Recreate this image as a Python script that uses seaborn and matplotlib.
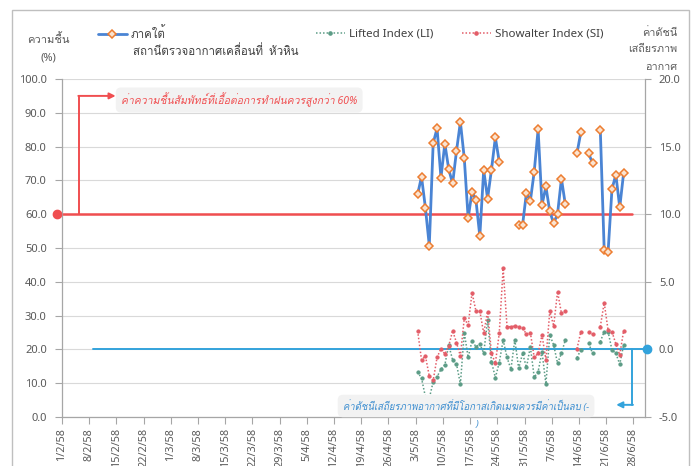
#!/usr/bin/env python3
"""
Relative humidity vs. stability indices (LI / SI), Hua Hin mobile station.
Recreated from a Thai Excel chart, Feb - Jun 2558 (2015).
"""

from datetime import date, timedelta

import numpy as np
import pandas as pd
import matplotlib
matplotlib.use("Agg")
import matplotlib.pyplot as plt
from matplotlib import font_manager
from matplotlib.lines import Line2D
from matplotlib.patches import Rectangle
import seaborn as sns

nan = np.nan

# Data (daily, starting 3/5/58; NaN = no sounding that day)
START_DATE = date(2015, 2, 1)
FIRST_DAY = 91          # days after START_DATE -> 3/5/58
N_DAYS = 150            # axis covers 1/2/58 .. 30/6/58
TICK_STEP = 7

rh = [65.9, 71.1, 61.9, 50.7, 81.0, 85.4, 70.8, 80.9, 73.3, 69.1, 78.7,
      87.3, 76.6, 58.8, 66.7, 64.2, 53.5, 73.1, 64.6, 73.2, 82.7, 75.5,
      nan, nan, nan, nan,
      56.8, 56.8, 66.4, 63.9, 72.6, 85.1, 62.7, 68.2, 60.8, 57.3, 60.1, 70.5, 62.9,
      nan, nan, 78.0, 84.3, nan, 78.0, 75.1, nan,
      85.0, 49.5, 48.8, 67.4, 71.7, 62.0, 72.2]

li = [-1.65, -2.14, -3.5, -3.62, -2.39, -2.02, -1.47, -1.15, 0.33, -0.78,
      -1.08, -2.56, 1.24, -0.59, 0.64, 0.2, 0.4, -0.29, 2.17, -0.91, -2.09,
      -0.98, 0.7, -0.59, -1.47, 0.7, -1.4, -0.29, -1.33, 0.2, -2.06, -1.65,
      -0.17, -2.56, 1.07, 0.33, -1.03, -0.29, 0.7,
      nan, nan, -0.61, -0.04, nan, 0.45, -0.29, nan,
      0.57, 1.31, 1.31, -0.04, -0.29, -1.1, 0.33]

si = [1.38, -0.78, -0.49, -1.97, -2.3, -0.59, 0.05, -0.34, 0.25, 1.38, 0.5,
      -0.49, 2.3, 1.8, 4.2, 2.84, 2.84, 1.19, 2.79, -0.29, -1.03, 1.19, 6.0,
      1.68, 1.68, 1.73, 1.68, 1.56, 1.14, 1.24, -0.59, -0.29, 1.07, -0.78,
      2.84, 1.73, 4.27, 2.67, 2.86,
      nan, nan, 0.05, 1.31, nan, 1.31, 1.14, nan,
      1.68, 3.45, 1.43, 1.31, 0.4, -0.41, 1.38]

RH_THRESHOLD = 60       # %
INDEX_THRESHOLD = 0     # stability index

# Text
LABEL_RH = "ภาคใต้"
LABEL_STATION = "สถานีตรวจอากาศเคลื่อนที่  หัวหิน"
LABEL_LI = "Lifted Index (LI)"
LABEL_SI = "Showalter Index (SI)"
YLABEL_LEFT = "ความชื้น\n(%)"
YLABEL_RIGHT = "ค่าดัชนี\nเสถียรภาพ\nอากาศ"
NOTE_RH = "ค่าความชื้นสัมพัทธ์ที่เอื้อต่อการทำฝนควรสูงกว่า 60%"
NOTE_INDEX = "ค่าดัชนีเสถียรภาพอากาศที่มีโอกาสเกิดเมฆควรมีค่าเป็นลบ (-"

# Colours
C_RH_LINE = "#4a84d4"
C_RH_EDGE = "#ed7d31"
C_RH_FACE = "#fbe3cf"
C_LI = "#5c9c86"
C_SI = "#e35d68"
C_RED = "#f04e50"
C_BLUE = "#33a3dc"
C_TEXT = "#595959"
C_GRID = "#d9d9d9"
C_AXIS = "#a6a6a6"

W, H = 694, 466


def find_thai_font():
    """Return an installed family that has Thai glyphs, if any."""
    try:
        from fontTools.ttLib import TTFont
    except ImportError:
        return None
    for f in font_manager.fontManager.ttflist:
        try:
            tt = TTFont(f.fname, fontNumber=0, lazy=True)
            cmap = tt.getBestCmap() or {}
            if 0x0E01 in cmap and 0x0E49 in cmap:
                return f.name
        except Exception:
            continue
    return None


def px(x, y):
    """Pixel position -> figure fraction."""
    return x / W, 1 - y / H


def to_frame(values, name):
    s = pd.Series(values, dtype=float)
    df = pd.DataFrame({
        "x": np.arange(len(s)) + FIRST_DAY + 0.5,
        name: s,
        "seg": s.isna().cumsum(),
    })
    return df.dropna()


sns.set_theme(style="white")
thai = find_thai_font()
families = ["Noto Sans"] + ([thai] if thai else []) + ["DejaVu Sans"]
plt.rcParams["font.family"] = families

fig = plt.figure(figsize=(W / 100, H / 100), dpi=100)
fig.patch.set_facecolor("white")
ax = fig.add_axes([62 / W, 1 - 417 / H, (645 - 62) / W, (417 - 79) / H])
ax2 = ax.twinx()

# Outer chart border
fig.patches.append(Rectangle((12 / W, -0.2), (689 - 12) / W, 1.2 - 10 / H,
                             transform=fig.transFigure, fill=False,
                             ec="#bfbfbf", lw=1.0))

df_rh = to_frame(rh, "rh")
df_li = to_frame(li, "li")
df_si = to_frame(si, "si")

# Threshold lines
ax.plot([-1.3, 146.7], [RH_THRESHOLD, RH_THRESHOLD], color=C_RED, lw=1.8,
        clip_on=False, zorder=2)
ax.plot([-1.3], [RH_THRESHOLD], "o", color=C_RED, ms=6, clip_on=False, zorder=3)
ax.plot([4.4, 4.4], [RH_THRESHOLD, 95.0], color=C_RED, lw=1.4, zorder=2)
ax.annotate("", xy=(13.8, 95.0), xytext=(4.2, 95.0),
            arrowprops=dict(arrowstyle="-|>", color=C_RED, lw=1.4,
                            mutation_scale=9, shrinkA=0, shrinkB=0))

ax2.plot([8.0, 150.6], [INDEX_THRESHOLD, INDEX_THRESHOLD], color=C_BLUE,
         lw=1.4, clip_on=False, zorder=2)
ax2.plot([150.6], [INDEX_THRESHOLD], "o", color=C_BLUE, ms=6, clip_on=False,
         zorder=3)
ax2.plot([146.7, 146.7], [INDEX_THRESHOLD, -4.1], color=C_BLUE, lw=1.4,
         zorder=2)
ax2.annotate("", xy=(142.6, -4.1), xytext=(146.9, -4.1),
             arrowprops=dict(arrowstyle="-|>", color=C_BLUE, lw=1.4,
                             mutation_scale=9, shrinkA=0, shrinkB=0))

# Series
sns.lineplot(data=df_rh, x="x", y="rh", units="seg", estimator=None,
             sort=False, ax=ax, color=C_RH_LINE, lw=2.0, marker="D", ms=3.8,
             mfc=C_RH_FACE, mec=C_RH_EDGE, mew=1.1, zorder=4)
sns.lineplot(data=df_li, x="x", y="li", units="seg", estimator=None,
             sort=False, ax=ax2, color=C_LI, lw=1.1, ls=(0, (1, 1.3)),
             marker="o", ms=2.3, mec=C_LI, zorder=4)
sns.lineplot(data=df_si, x="x", y="si", units="seg", estimator=None,
             sort=False, ax=ax2, color=C_SI, lw=1.1, ls=(0, (1, 1.3)),
             marker="o", ms=2.3, mec=C_SI, zorder=4)

# Axes
ax.set_xlim(0, N_DAYS)
ax.set_ylim(0, 100)
ax2.set_ylim(-5, 20)
ax.set_yticks(np.arange(0, 101, 10))
ax2.set_yticks(np.arange(-5, 21, 5))
ax.set_yticklabels([f"{v:.1f}" for v in np.arange(0, 101, 10)])
ax2.set_yticklabels([f"{v:.1f}" for v in np.arange(-5, 21, 5)])

ticks = np.arange(0, N_DAYS, TICK_STEP)
tick_labels = []
for t in ticks:
    d = START_DATE + timedelta(days=int(t))
    tick_labels.append(f"{d.day}/{d.month}/58")
ax.set_xticks(ticks)
ax.set_xticklabels(tick_labels, rotation=90)

for a in (ax, ax2):
    a.set_xlabel("")
    a.set_ylabel("")
    a.spines["top"].set_visible(False)
    for sp in a.spines.values():
        sp.set_color(C_AXIS)
        sp.set_linewidth(0.9)

ax.spines["right"].set_visible(False)
ax2.spines["left"].set_visible(False)
ax2.spines["bottom"].set_visible(False)

ax.tick_params(axis="y", which="both", left=True, length=5, width=0.8,
               color=C_AXIS, labelcolor=C_TEXT, labelsize=8, pad=6)
ax.tick_params(axis="x", bottom=True, length=5, width=0.8, color=C_AXIS,
               labelcolor=C_TEXT, labelsize=7.8, pad=3)
ax2.tick_params(axis="y", right=True, length=4, width=0.8, color=C_AXIS,
                labelcolor=C_TEXT, labelsize=8, pad=6)

ax.yaxis.grid(True, color=C_GRID, lw=0.8)
ax.xaxis.grid(False)
ax2.grid(False)
ax.set_axisbelow(True)
ax.set_zorder(1)
ax2.set_zorder(2)
ax2.patch.set_visible(False)

# Axis titles
fig.text(*px(48, 49), YLABEL_LEFT, ha="center", va="center", fontsize=8,
         color=C_TEXT, linespacing=1.8)
fig.text(*px(677, 50), YLABEL_RIGHT, ha="right", va="center", fontsize=7.8,
         color=C_TEXT, linespacing=1.75, multialignment="right")

# Notes
fig.text(*px(121, 100), NOTE_RH, ha="left", va="center", fontsize=7.5,
         style="italic", color=C_RED,
         bbox=dict(boxstyle="round,pad=0.5", fc="#f2f2f2", ec="none"))
fig.text(*px(343, 406), NOTE_INDEX, ha="left", va="center", fontsize=6.9,
         style="italic", color="#3f8fd0",
         bbox=dict(boxstyle="round,pad=0.55", fc="#f2f2f2", ec="none"))
fig.text(*px(476, 424), ")", ha="left", va="center", fontsize=6.9,
         style="italic", color="#3f8fd0")

# Legends
h_rh = Line2D([], [], color=C_RH_LINE, lw=2.0, marker="D", ms=3.8,
              mfc=C_RH_FACE, mec=C_RH_EDGE, mew=1.1)
h_li = Line2D([], [], color=C_LI, lw=1.1, ls=(0, (1, 1.3)), marker="o",
              ms=2.3, mec=C_LI)
h_si = Line2D([], [], color=C_SI, lw=1.1, ls=(0, (1, 1.3)), marker="o",
              ms=2.3, mec=C_SI)
for handle, label, x0 in ((h_rh, LABEL_RH, 98), (h_li, LABEL_LI, 316),
                          (h_si, LABEL_SI, 462)):
    fig.legend([handle], [label], loc="center left",
               bbox_to_anchor=px(x0, 34), frameon=False, fontsize=8.3,
               handlelength=2.5, handletextpad=0.35, borderpad=0,
               borderaxespad=0, labelcolor="#404040")
fig.text(*px(133, 52), LABEL_STATION, ha="left", va="center", fontsize=8.3,
         color="#404040")

fig.savefig("out.png", dpi=100)
